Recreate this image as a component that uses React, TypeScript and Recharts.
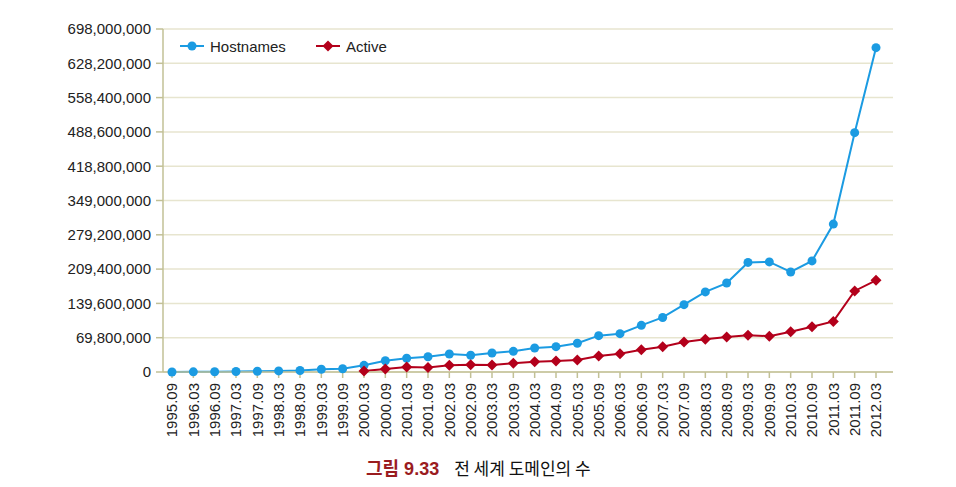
import React from 'react';
import { LineChart, Line, XAxis, YAxis, CartesianGrid } from 'recharts';

const periods = [
  '1995.09', '1996.03', '1996.09', '1997.03', '1997.09', '1998.03', '1998.09', '1999.03', '1999.09',
  '2000.03', '2000.09', '2001.03', '2001.09', '2002.03', '2002.09', '2003.03', '2003.09', '2004.03',
  '2004.09', '2005.03', '2005.09', '2006.03', '2006.09', '2007.03', '2007.09', '2008.03', '2008.09',
  '2009.03', '2009.09', '2010.03', '2010.09', '2011.03', '2011.09', '2012.03',
];

// millions
const hostnames = [
  0.02, 0.3, 0.4, 1.0, 1.5, 2.2, 3.0, 5.5, 6.5,
  13.6, 23, 28, 31, 36.6, 34, 38.7, 42, 48.8,
  51.5, 58.4, 74, 78, 95, 111, 137, 163, 181,
  223, 224, 203.5, 226, 301, 487, 660,
];

const active = [
  null, null, null, null, null, null, null, null, null,
  2, 6, 10, 9, 13.6, 15, 14, 18, 21,
  22.4, 24.4, 32.6, 37.3, 45.4, 51.5, 61, 66.5, 71,
  74.6, 73, 82, 92, 103, 165, 186.6,
];

const yTicks = [0, 69800000, 139600000, 209400000, 279200000, 349000000, 418800000, 488600000, 558400000, 628200000, 698000000];

const BLUE = '#1b9be2';
const RED = '#b3001b';
const AXIS = '#c2c096';
const GRID = '#e7e5cf';
const FONT = '"Liberation Sans", Arial, sans-serif';

const data = periods.map((p, i) => ({
  period: p,
  hostnames: hostnames[i] * 1e6,
  active: active[i] == null ? null : (active[i] as number) * 1e6,
}));

const Diamond = (props: any) => {
  const { cx, cy, index, value } = props;
  if (cx == null || cy == null || value == null) return <g key={`d-${index}`} />;
  const r = 5.5;
  return <path key={`d-${index}`} d={`M${cx},${cy - r}L${cx + r},${cy}L${cx},${cy + r}L${cx - r},${cy}Z`} fill={RED} />;
};

const XTick = ({ x, y, payload }: any) => (
  <text transform={`translate(${x},${y}) rotate(-90)`} textAnchor="end" dy="0.36em" fontSize={15} fill="#222" fontFamily={FONT}>
    {payload.value}
  </text>
);

export default function App() {
  return (
    <div style={{ position: 'absolute', left: 0, top: 0, width: 956, height: 487, background: '#fff', fontFamily: FONT }}>
      <LineChart width={956} height={450} data={data} margin={{ top: 29, right: 63, left: 0, bottom: 0 }}>
        <CartesianGrid vertical={false} stroke={GRID} strokeWidth={1.5} />
        <XAxis
          dataKey="period"
          interval={0}
          height={78}
          padding={{ left: 9, right: 17 }}
          stroke={AXIS}
          strokeWidth={1.5}
          tickSize={6}
          tickMargin={5}
          tick={<XTick />}
        />
        <YAxis
          width={163}
          domain={[0, 698000000]}
          ticks={yTicks}
          interval={0}
          stroke={AXIS}
          strokeWidth={1.5}
          tickSize={7}
          tickMargin={5}
          tick={{ fontSize: 15, fill: '#222', fontFamily: FONT }}
          tickFormatter={(v: number) => v.toLocaleString('en-US')}
        />
        <Line
          dataKey="hostnames"
          stroke={BLUE}
          strokeWidth={2}
          dot={{ r: 4.5, fill: BLUE, stroke: BLUE, strokeWidth: 0 }}
          isAnimationActive={false}
        />
        <Line
          dataKey="active"
          stroke={RED}
          strokeWidth={2}
          dot={<Diamond />}
          isAnimationActive={false}
        />
      </LineChart>

      <div style={{ position: 'absolute', left: 180, top: 37, display: 'flex', alignItems: 'center', fontSize: 15, color: '#222' }}>
        <svg width={24} height={18} style={{ marginRight: 6 }}>
          <line x1={0} y1={9} x2={24} y2={9} stroke={BLUE} strokeWidth={2} />
          <circle cx={12} cy={9} r={4.5} fill={BLUE} />
        </svg>
        <span style={{ marginRight: 30 }}>Hostnames</span>
        <svg width={24} height={18} style={{ marginRight: 6 }}>
          <line x1={0} y1={9} x2={24} y2={9} stroke={RED} strokeWidth={2} />
          <path d="M12,3.5L17.5,9L12,14.5L6.5,9Z" fill={RED} />
        </svg>
        <span>Active</span>
      </div>

      <div style={{ position: 'absolute', left: 366, top: 454, display: 'flex', alignItems: 'center', color: '#111', fontFamily: '"Liberation Sans", "Noto Sans CJK KR", sans-serif' }}>
        <span style={{ fontWeight: 'bold', fontSize: 18, color: '#9a1c1f', marginRight: 15 }}>그림 9.33</span>
        <span style={{ fontSize: 17, fontFamily: '"Noto Sans CJK KR", sans-serif' }}>전 세계 도메인의 수</span>
      </div>
    </div>
  );
}
